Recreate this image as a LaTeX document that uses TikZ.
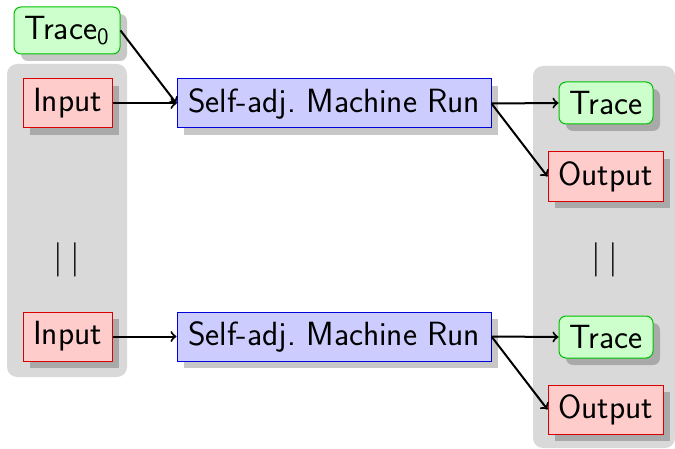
\documentclass[tikz,border=0pt]{standalone}
\usepackage{fontspec}
\usetikzlibrary{shadows}
\begin{document}
\begin{tikzpicture}[x=0.5pt,y=-0.5pt,
  font=\sffamily\fontsize{16.8}{20}\selectfont,
  shade/.style={drop shadow={shadow xshift=3.5pt,shadow yshift=-3.5pt,opacity=0.22,fill=black}},
  box/.style={draw,line width=0.5pt,inner sep=0pt,shade},
  inbox/.style={box,draw=red!85!black,fill=red!20,minimum width=44.5pt,minimum height=24.5pt},
  outbox/.style={box,draw=red!85!black,fill=red!20,minimum width=57.5pt,minimum height=24.5pt},
  tracebox/.style={box,draw=green!75!black,fill=green!20,rounded corners=3.5pt,minimum width=47pt,minimum height=21pt},
  runbox/.style={box,draw=blue!85!black,fill=blue!20,minimum width=157pt,minimum height=24.5pt},
  panel/.style={fill=black!15,rounded corners=5pt},
  flow/.style={->,line width=1pt}]
\useasboundingbox (0,0) rectangle (675,449);
% grey groups
\path[panel] (7,64) rectangle (127,377);
\path[panel] (533,66) rectangle (675,448);
% left column
\node[tracebox,minimum width=53pt,minimum height=23.5pt] (t0) at (67,30.5) {Trace\textsubscript{0}};
\node[inbox] (in1) at (67.5,103.5) {Input};
\node[inbox] (in2) at (67.5,336.5) {Input};
\node (eqL) at (67,260) {\fontsize{19}{22}\selectfont$|$\hspace{4pt}$|$};
% machine runs
\node[runbox] (run1) at (334,103.5) {Self-adj.\ Machine Run};
\node[runbox] (run2) at (334,336.5) {Self-adj.\ Machine Run};
% right column
\node[tracebox] (tr1) at (606,103) {Trace};
\node[outbox] (out1) at (605.5,176.5) {Output};
\node (eqR) at (605,260) {\fontsize{19}{22}\selectfont$|$\hspace{4pt}$|$};
\node[tracebox] (tr2) at (606,337) {Trace};
\node[outbox] (out2) at (605.5,409.5) {Output};
% connectors
\draw[flow] (t0.east) -- (run1.west);
\draw[flow] (in1) -- (run1);
\draw[flow] (run1.east) -- (tr1.west);
\draw[flow] (run1.east) -- (out1.west);
\draw[flow] (in2) -- (run2);
\draw[flow] (run2.east) -- (tr2.west);
\draw[flow] (run2.east) -- (out2.west);
\end{tikzpicture}
\end{document}
